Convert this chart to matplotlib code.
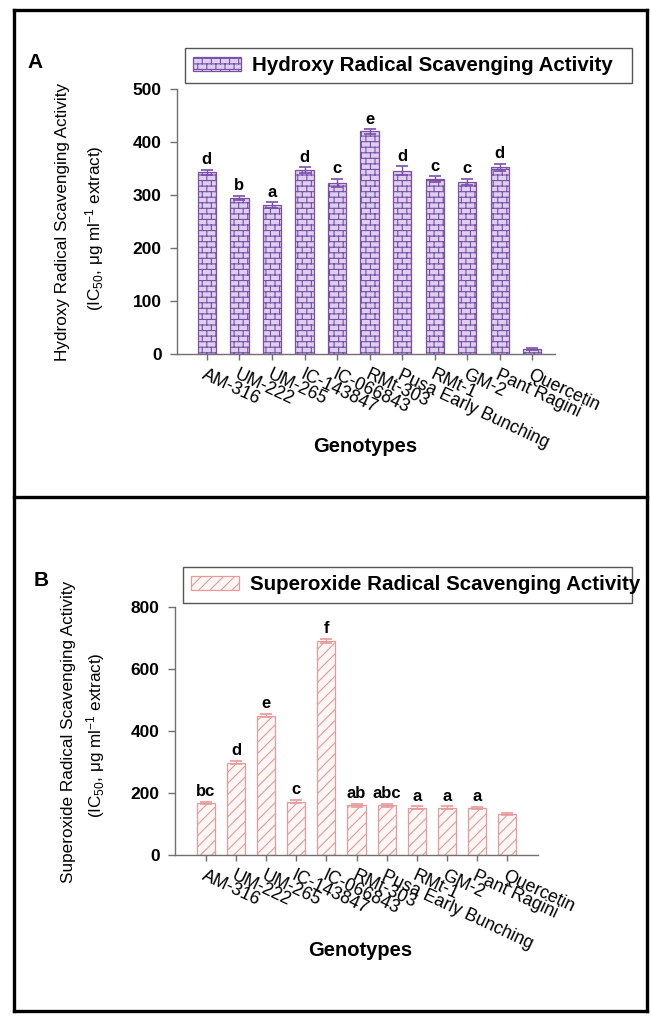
import warnings
import numpy as np
import matplotlib
matplotlib.use("Agg")
import matplotlib.pyplot as plt
from matplotlib import hatch as mhatch
from matplotlib.path import Path
from matplotlib.lines import Line2D
import matplotlib.transforms as mtransforms

warnings.filterwarnings("ignore")

# data
genotypes = ['AM-316', 'UM-222', 'UM-265', 'IC-143847', 'IC-066843', 'RMt-303',
             'Pusa Early Bunching', 'RMt-1', 'GM-2', 'Pant Ragini', 'Quercetin']
hydroxy = [343, 295, 281, 347, 323, 420, 346, 330, 324, 352, 10]
hydroxy_err = [5, 4, 5, 5, 8, 4, 8, 5, 6, 7, 2]
hydroxy_letters = ['d', 'b', 'a', 'd', 'c', 'e', 'd', 'c', 'c', 'd', '']
superoxide = [168, 298, 450, 172, 690, 160, 160, 153, 153, 152, 132]
superoxide_err = [4, 5, 6, 5, 6, 4, 4, 4, 4, 4, 2]
superoxide_letters = ['bc', 'd', 'e', 'c', 'f', 'ab', 'abc', 'a', 'a', 'a', '']


# brick hatch ('b') - matplotlib has no built-in one
class BrickHatch(mhatch.HatchPatternBase):
    def __init__(self, hatch, density):
        self.segs = []
        if 'b' in hatch:
            n, m = 18, 11
            for k in range(n):
                y = (k + 0.5) / n
                self.segs.append(((0.0, y), (1.0, y)))
                y1 = (k + 1.5) / n
                shift = 0.25 if k % 2 == 0 else 0.75
                for j in range(m):
                    x = (j + shift) / m
                    if y1 <= 1:
                        self.segs.append(((x, y), (x, y1)))
                    else:
                        self.segs.append(((x, y), (x, 1.0)))
                        self.segs.append(((x, 0.0), (x, y1 - 1)))
        self.num_vertices = len(self.segs) * 2

    def set_vertices_and_codes(self, vertices, codes):
        for i, (p0, p1) in enumerate(self.segs):
            vertices[2 * i] = p0
            vertices[2 * i + 1] = p1
            codes[2 * i] = Path.MOVETO
            codes[2 * i + 1] = Path.LINETO


mhatch._hatch_types.append(BrickHatch)

plt.rcParams['font.family'] = ['Liberation Sans', 'DejaVu Sans']
plt.rcParams['mathtext.default'] = 'regular'
plt.rcParams['hatch.linewidth'] = 0.8

W, H = 651, 1016
fig = plt.figure(figsize=(W / 100, H / 100), dpi=100)


def fx(x):
    return x / W


def fy(y):
    return 1 - y / H


def panel(ax, values, errs, letters, ymax, step, xlim, width, face, edge, hatch, legend_label, leg_box):
    x = np.arange(len(genotypes))
    ax.bar(x, values, width=width, color=face, edgecolor=edge, hatch=hatch,
           linewidth=0.9, label=legend_label, zorder=2)
    ax.errorbar(x, values, yerr=errs, fmt='none', ecolor=edge, elinewidth=1.0,
                capsize=4, capthick=1.2, zorder=3)
    for xi, v, e, t in zip(x, values, errs, letters):
        if t:
            ax.annotate(t, (xi, v + e), xytext=(0, 2), textcoords='offset points',
                        ha='center', va='bottom', fontsize=12, fontweight='bold')
    ax.set_xlim(*xlim)
    ax.set_ylim(0, ymax)
    ax.set_yticks(np.arange(0, ymax + 1, step))
    ax.set_xticks(x)
    ax.set_xticklabels(genotypes, rotation=-25, ha='left', va='top',
                       rotation_mode='anchor', fontsize=12.8)
    offset = mtransforms.ScaledTranslation(-6 / 100, 0, fig.dpi_scale_trans)
    for lab in ax.get_xticklabels():
        lab.set_transform(lab.get_transform() + offset)
    for lab in ax.get_yticklabels():
        lab.set_fontweight('bold')
        lab.set_fontsize(12.5)
    for s in ['top', 'right']:
        ax.spines[s].set_visible(False)
    for s in ['left', 'bottom']:
        ax.spines[s].set_color('#707070')
        ax.spines[s].set_linewidth(1.0)
    ax.tick_params(axis='y', direction='out', length=5, width=1, color='#707070', pad=6)
    ax.tick_params(axis='x', direction='out', length=4, width=1, color='#707070', pad=5)
    x0, y0, x1, y1 = leg_box
    fig.legend(handles=ax.patches[:1], labels=[legend_label], loc='center',
               bbox_to_anchor=(fx(x0), fy(y1), fx(x1) - fx(x0), fy(y0) - fy(y1)),
               mode='expand', borderaxespad=0, fancybox=False, edgecolor='#555555',
               framealpha=1, prop={'weight': 'bold', 'size': 14.8}, handlelength=2.3,
               handleheight=0.65, handletextpad=0.55, borderpad=0.4)


# panel A
axA = fig.add_axes([fx(177), fy(354), fx(555) - fx(177), fy(89) - fy(354)])
panel(axA, hydroxy, hydroxy_err, hydroxy_letters, 500, 100, (-0.92, 10.7), 0.56,
      '#ddd0ee', '#7a4fa8', 'b', 'Hydroxy Radical Scavenging Activity', (185, 47, 632, 84))

# panel B
axB = fig.add_axes([fx(175), fy(855), fx(538) - fx(175), fy(607) - fy(855)])
panel(axB, superoxide, superoxide_err, superoxide_letters, 800, 200, (-1.03, 11.03), 0.6,
      '#fff6f6', '#e89a9a', '///', 'Superoxide Radical Scavenging Activity', (183, 567, 632, 603))

# axis titles
fig.text(fx(63), fy(222), 'Hydroxy Radical Scavenging Activity', rotation=90,
         ha='center', va='center', fontsize=12.3)
fig.text(fx(95), fy(228), r'(IC$_{50}$, μg ml$^{-1}$ extract)', rotation=90,
         ha='center', va='center', fontsize=12.3)
fig.text(fx(69), fy(732), 'Superoxide Radical Scavenging Activity', rotation=90,
         ha='center', va='center', fontsize=12.3)
fig.text(fx(96), fy(735), r'(IC$_{50}$, μg ml$^{-1}$ extract)', rotation=90,
         ha='center', va='center', fontsize=12.3)
fig.text(fx(365), fy(447), 'Genotypes', ha='center', va='center',
         fontsize=14.5, fontweight='bold')
fig.text(fx(360), fy(950), 'Genotypes', ha='center', va='center',
         fontsize=14.5, fontweight='bold')
fig.text(fx(35), fy(63), 'A', ha='center', va='center', fontsize=15, fontweight='bold')
fig.text(fx(41), fy(581), 'B', ha='center', va='center', fontsize=15, fontweight='bold')

# panel frames
for (xa, ya, xb, yb) in [(14, 10, 647, 10), (14, 497, 647, 497), (14, 1011, 647, 1011),
                         (14, 10, 14, 1011), (647, 10, 647, 1011)]:
    fig.add_artist(Line2D([fx(xa), fx(xb)], [fy(ya), fy(yb)], color='black',
                          linewidth=2.4, transform=fig.transFigure))

fig.savefig('out.png', dpi=100)
